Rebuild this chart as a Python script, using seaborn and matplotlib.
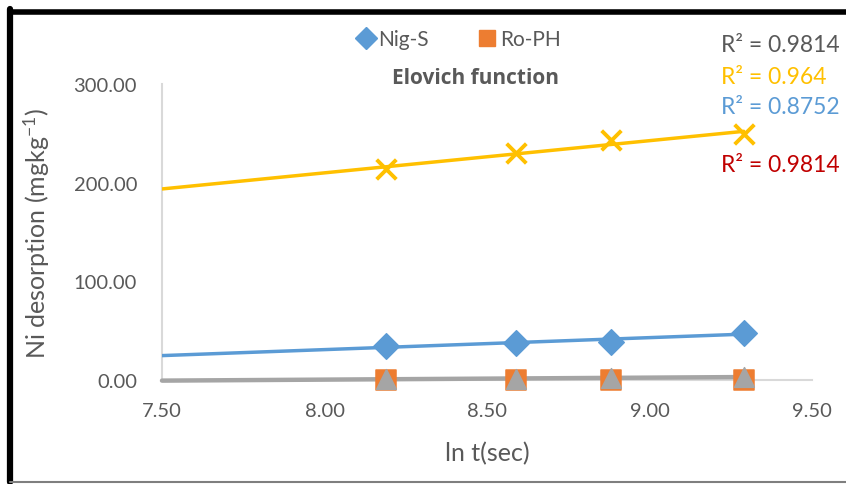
import numpy as np
import pandas as pd
import matplotlib
matplotlib.use("Agg")
import matplotlib.pyplot as plt
import seaborn as sns
from matplotlib.lines import Line2D

# ---- data ----
ln_t = [8.19, 8.59, 8.88, 9.29]
nig_s = [34.0, 38.0, 39.0, 48.0]
ro_ph = [0.3, 0.4, 0.5, 0.5]
gray_series = [0.8, 1.5, 2.2, 3.0]
yellow_series = [214.0, 230.0, 243.0, 249.0]
series_names = ["Nig-S", "Ro-PH", "Series3", "Series4"]
r2_labels = ["R² = 0.9814", "R² = 0.964", "R² = 0.8752", "R² = 0.9814"]
x_ticks = [7.50, 8.00, 8.50, 9.00, 9.50]
y_ticks = [0.0, 100.0, 200.0, 300.0]

BLUE = "#5B9BD5"
ORANGE = "#ED7D31"
GRAY = "#A5A5A5"
YELLOW = "#FFC000"
DARKRED = "#C00000"
TXT = "#595959"

sns.set_style("white")
plt.rcParams["font.family"] = ["Lato", "DejaVu Sans"]
plt.rcParams["mathtext.fontset"] = "custom"
plt.rcParams["mathtext.rm"] = "Lato"
plt.rcParams["mathtext.it"] = "Lato"
plt.rcParams["mathtext.default"] = "rm"

fig = plt.figure(figsize=(8.46, 4.85), dpi=100)
ax = fig.add_axes([162 / 846, 104 / 485, (812 - 162) / 846, (381 - 85) / 485])

df = pd.DataFrame({
    "x": ln_t * 4,
    "y": nig_s + ro_ph + gray_series + yellow_series,
    "s": sum([[n] * 4 for n in series_names], []),
})

xmin = x_ticks[0]

def trend(vals, color, lw, z, clip=True):
    b, a = np.polyfit(ln_t, vals, 1)
    xs = np.array([xmin, max(ln_t)])
    tdf = pd.DataFrame({"x": xs, "y": a + b * xs})
    sns.lineplot(data=tdf, x="x", y="y", ax=ax, color=color, lw=lw, zorder=z,
                 legend=False)
    ax.lines[-1].set_clip_on(clip)

trend(gray_series, GRAY, 3.2, 3, clip=False)
trend(nig_s, BLUE, 2.5, 3)
trend(yellow_series, YELLOW, 2.5, 3)

sns.scatterplot(data=df[df.s == "Ro-PH"], x="x", y="y", ax=ax, marker="s",
                color=ORANGE, s=190, edgecolor=ORANGE, zorder=4, legend=False,
                clip_on=False)
sns.scatterplot(data=df[df.s == "Series3"], x="x", y="y", ax=ax, marker="^",
                color=GRAY, s=200, edgecolor=GRAY, zorder=5, legend=False,
                clip_on=False)
sns.scatterplot(data=df[df.s == "Nig-S"], x="x", y="y", ax=ax, marker="D",
                color=BLUE, s=170, edgecolor=BLUE, zorder=5, legend=False)
sns.scatterplot(data=df[df.s == "Series4"], x="x", y="y", ax=ax, marker="x",
                color=YELLOW, s=200, linewidth=2.8, zorder=5, legend=False)

ax.set_xlim(7.5, 9.5)
ax.set_ylim(0, 300)
ax.set_xticks(x_ticks)
ax.set_yticks(y_ticks)
ax.set_xticklabels([f"{v:.2f}" for v in x_ticks], fontsize=14.5, color=TXT)
ax.set_yticklabels([f"{v:.2f}" for v in y_ticks], fontsize=14.5, color=TXT)
ax.tick_params(axis="both", length=0)
ax.tick_params(axis="y", pad=18)
ax.tick_params(axis="x", pad=16)
for side in ["top", "right"]:
    ax.spines[side].set_visible(False)
ax.spines["left"].set_color("#D9D9D9")
ax.spines["bottom"].set_color("#D9D9D9")
ax.spines["left"].set_linewidth(1.5)
ax.spines["bottom"].set_linewidth(1.5)
ax.set_xlabel("ln t(sec)", fontsize=18, color=TXT)
ax.set_ylabel("Ni desorption (mgkg$^{-1}$)", fontsize=18, color=TXT)
ax.xaxis.set_label_coords(0.5, -0.205)
ax.yaxis.set_label_coords(-0.17, 0.5)

fig.text(475 / 846, 1 - 78 / 485, "Elovich function", fontsize=15,
         fontweight="bold", color=TXT, ha="center", va="center",
         family=["Open Sans", "DejaVu Sans"])

# R² annotations
r2_colors = [TXT, YELLOW, BLUE, DARKRED]
r2_y = [45, 78, 107, 165]
for lab, c, yy in zip(r2_labels, r2_colors, r2_y):
    fig.text(721 / 846, 1 - yy / 485, lab, fontsize=16.5, color=c,
             ha="left", va="center")

# legend
handles = [
    Line2D([], [], marker="D", color=BLUE, ls="none", markersize=11),
    Line2D([], [], marker="s", color=ORANGE, ls="none", markersize=12),
]
fig.legend(handles, series_names[:2], loc="center", ncol=2, frameon=False,
           bbox_to_anchor=(457 / 846, 1 - 40 / 485), fontsize=15,
           handletextpad=0.0, columnspacing=2.2, labelcolor=TXT,
           handlelength=1.2)

# frame lines
fig.add_artist(Line2D([10 / 846, 846 / 846], [1 - 12.5 / 485] * 2,
                      color="black", lw=4, transform=fig.transFigure))
fig.add_artist(Line2D([10 / 846] * 2, [1 - 10 / 485, 2 / 485],
                      color="black", lw=4.5, transform=fig.transFigure))
fig.add_artist(Line2D([10 / 846, 846 / 846], [2 / 485] * 2,
                      color="#7F7F7F", lw=1.5, transform=fig.transFigure))

fig.savefig("out.png", dpi=100)
